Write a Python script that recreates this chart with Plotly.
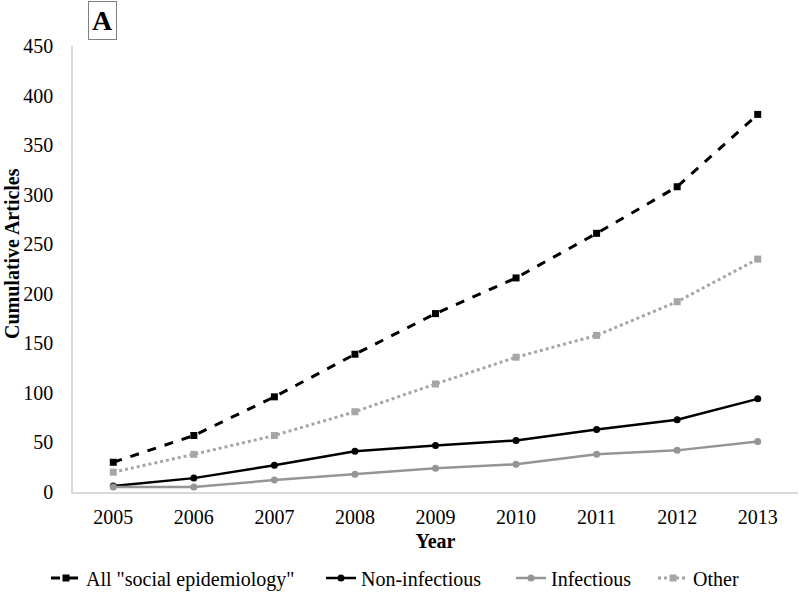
import plotly.graph_objects as go

years = ["2005", "2006", "2007", "2008", "2009", "2010", "2011", "2012", "2013"]
all_social = [30, 57, 96, 139, 180, 216, 261, 308, 381]
non_infectious = [6, 14, 27, 41, 47, 52, 63, 73, 94]
infectious = [5, 5, 12, 18, 24, 28, 38, 42, 51]
other = [20, 38, 57, 81, 109, 136, 158, 192, 235]

FONT = "Liberation Serif"

fig = go.Figure()
fig.add_trace(go.Scatter(x=years, y=all_social, name='All "social epidemiology"',
                         mode="lines+markers", legend="legend",
                         line=dict(color="black", width=3, dash="dash"),
                         marker=dict(symbol="square", size=7, color="black")))
fig.add_trace(go.Scatter(x=years, y=non_infectious, name="Non-infectious",
                         mode="lines+markers", legend="legend2",
                         line=dict(color="black", width=2.5),
                         marker=dict(symbol="circle", size=7, color="black")))
fig.add_trace(go.Scatter(x=years, y=infectious, name="Infectious",
                         mode="lines+markers", legend="legend3",
                         line=dict(color="#959595", width=2.5),
                         marker=dict(symbol="circle", size=7, color="#959595")))
fig.add_trace(go.Scatter(x=years, y=other, name="Other",
                         mode="lines+markers", legend="legend4",
                         line=dict(color="#a6a6a6", width=3, dash="dot"),
                         marker=dict(symbol="square", size=7, color="#a6a6a6")))


def leg(sym_x):
    return dict(orientation="h", xref="container", yref="container",
                x=(sym_x - 8) / 800, xanchor="left",
                y=1 - 578 / 596, yanchor="middle",
                font=dict(family=FONT, size=20, color="black"),
                itemwidth=30, bgcolor="rgba(0,0,0,0)")


fig.update_layout(
    width=800, height=596,
    paper_bgcolor="white", plot_bgcolor="white",
    margin=dict(l=73, r=2, t=46, b=104, autoexpand=False),
    font=dict(family=FONT, size=20, color="black"),
    showlegend=True,
    legend=leg(54), legend2=leg(329), legend3=leg(519), legend4=leg(661),
    xaxis=dict(type="category", range=[-0.5, 8.5], showgrid=False,
               showline=True, linecolor="#d9d9d9", linewidth=1.5,
               ticks="outside", ticklen=6, tickcolor="rgba(0,0,0,0)",
               tickfont=dict(family=FONT, size=20),
               title=dict(text="<b>Year</b>", font=dict(family=FONT, size=20),
                          standoff=7)),
    yaxis=dict(range=[0, 450], dtick=50, showgrid=False,
               showline=True, linecolor="#d9d9d9", linewidth=1.5,
               ticks="outside", ticklen=14, tickcolor="rgba(0,0,0,0)",
               tickfont=dict(family=FONT, size=20),
               zeroline=False),
    annotations=[
        dict(text="<b>A</b>", xref="paper", yref="paper",
             x=0.04, y=(492 - 20.5) / 446, xanchor="center", yanchor="middle",
             showarrow=False, font=dict(family=FONT, size=28, color="black"),
             bordercolor="#7f7f7f", borderwidth=1, borderpad=3,
             bgcolor="white"),
        dict(text="<b>Cumulative Articles</b>", xref="paper", yref="paper",
             x=(12 - 73) / 725, y=(492 - 254) / 446, xanchor="center",
             yanchor="middle", textangle=-90, showarrow=False,
             font=dict(family=FONT, size=20, color="black")),
    ],
)

fig.write_html("out.html", config={"displayModeBar": False},
               post_script="document.body.style.margin='0px';")
